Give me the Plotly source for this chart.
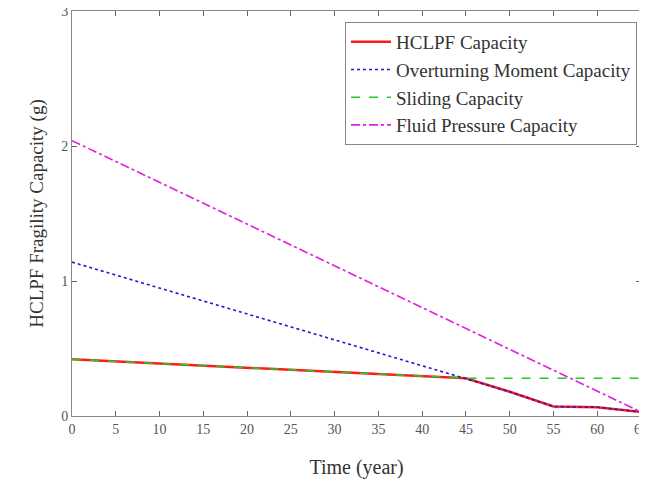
import plotly.graph_objects as go

time_years = [0, 5, 10, 15, 20, 25, 30, 35, 40, 45, 50, 55, 60, 65]
hclpf = [0.42, 0.404, 0.389, 0.373, 0.358, 0.342, 0.327, 0.311, 0.296, 0.28, 0.18, 0.07, 0.065, 0.03]
overturning = [1.14, 1.044, 0.949, 0.853, 0.758, 0.662, 0.567, 0.471, 0.376, 0.28, 0.18, 0.07, 0.065, 0.03]
sliding = [0.42, 0.404, 0.389, 0.373, 0.358, 0.342, 0.327, 0.311, 0.296, 0.28, 0.28, 0.28, 0.28, 0.28]
fluid = [2.04, 1.885, 1.731, 1.576, 1.422, 1.267, 1.112, 0.958, 0.803, 0.649, 0.494, 0.339, 0.185, 0.03]

x_ticks = [0, 5, 10, 15, 20, 25, 30, 35, 40, 45, 50, 55, 60, 65]
y_ticks = [0, 1, 2, 3]

fig = go.Figure()
fig.add_trace(go.Scatter(x=time_years, y=hclpf, mode="lines", name="HCLPF Capacity",
                         line=dict(color="#ff1a1a", width=2.5)))
fig.add_trace(go.Scatter(x=time_years, y=overturning, mode="lines", name="Overturning Moment Capacity",
                         line=dict(color="#1a1ad0", width=1.6, dash="dot")))
fig.add_trace(go.Scatter(x=time_years, y=sliding, mode="lines", name="Sliding Capacity",
                         line=dict(color="#22cc22", width=1.6, dash="dash")))
fig.add_trace(go.Scatter(x=time_years, y=fluid, mode="lines", name="Fluid Pressure Capacity",
                         line=dict(color="#e020e0", width=1.6, dash="dashdot")))

axis_common = dict(showgrid=False, zeroline=False, showline=True, linecolor="#888888", linewidth=1,
                   mirror="ticks", ticks="inside", ticklen=5, tickcolor="#666666", automargin=False,
                   ticklabeloverflow="allow",
                   tickfont=dict(family="Liberation Serif", size=14, color="#555555"))

fig.update_xaxes(range=[0, 65], tickvals=x_ticks, title=dict(text="Time (year)", standoff=24,
                 font=dict(family="Liberation Serif", size=20, color="#333333")), **axis_common)
fig.update_yaxes(range=[0, 3], tickvals=y_ticks, ticklabelstandoff=0,
                 title=dict(text="HCLPF Fragility Capacity (g)", standoff=12,
                            font=dict(family="Liberation Serif", size=19, color="#333333")), **axis_common)

fig.update_layout(
    width=639, height=473,
    margin=dict(l=64, r=6, t=3, b=65),
    paper_bgcolor="white", plot_bgcolor="white",
    font=dict(family="Liberation Serif", color="#333333"),
    legend=dict(x=0.993, y=0.973, xanchor="right", yanchor="top",
                bordercolor="#888888", borderwidth=1, bgcolor="white",
                font=dict(family="Liberation Serif", size=19, color="#333333"),
                tracegroupgap=0, itemwidth=40),
)

fig.write_html("out.html")
